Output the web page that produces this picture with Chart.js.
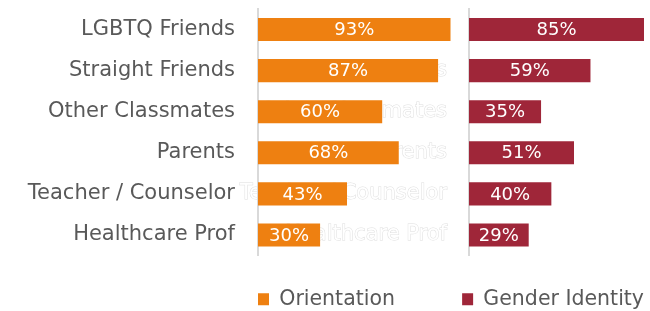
<!DOCTYPE html>
<html>
<head>
<meta charset="utf-8">
<script src="https://cdn.jsdelivr.net/npm/chart.js@4/dist/chart.umd.min.js"></script>
<style>
  html, body { margin: 0; padding: 0; background: #fff; }
  #wrap { position: relative; width: 650px; height: 311px; overflow: hidden; }
  #wrap canvas { position: absolute; left: 0; top: 0; }
</style>
</head>
<body>
<div id="wrap">
  <canvas id="genderChart" width="650" height="311"></canvas>
  <canvas id="orientChart" width="650" height="311"></canvas>
</div>
<script>
// ---- data ----
const categories = ['LGBTQ Friends', 'Straight Friends', 'Other Classmates', 'Parents', 'Teacher / Counselor', 'Healthcare Prof'];
const orientation = [93, 87, 60, 68, 43, 30];
const genderIdentity = [85, 59, 35, 51, 40, 29];

const FONT = 'DejaVu Sans';
const GREY = '#595959';
const ORANGE = '#EE8011';
const RED = '#9F2639';

// white % labels centred in each bar
const barLabels = {
  id: 'barLabels',
  afterDatasetsDraw(chart) {
    const ctx = chart.ctx;
    ctx.save();
    ctx.font = '18px "' + FONT + '"';
    ctx.fillStyle = '#fff';
    ctx.textAlign = 'center';
    ctx.textBaseline = 'middle';
    chart.data.datasets.forEach((ds, i) => {
      chart.getDatasetMeta(i).data.forEach((bar, j) => {
        ctx.fillText(ds.data[j] + '%', (bar.x + bar.base) / 2, bar.y + 1);
      });
    });
    ctx.restore();
  }
};

function makeChart(id, cfg) {
  return new Chart(document.getElementById(id), {
    type: 'bar',
    data: {
      labels: categories,
      datasets: [{
        label: cfg.label,
        data: cfg.data,
        backgroundColor: cfg.color,
        borderWidth: 0,
        categoryPercentage: 0.8,
        barPercentage: 0.7
      }]
    },
    plugins: [barLabels],
    options: {
      indexAxis: 'y',
      responsive: false,
      animation: false,
      layout: { padding: { top: 9, right: cfg.padRight, bottom: 0, left: 0 } },
      scales: {
        x: {
          min: 0, max: cfg.max,
          grid: { display: false },
          border: { display: false },
          ticks: { display: false },
          afterFit: s => { s.height = 33.5; }
        },
        y: {
          grid: { display: false, drawTicks: false },
          border: { display: true, color: '#d9d9d9', width: 2 },
          ticks: {
            color: cfg.tickColor,
            padding: cfg.tickPad,
            font: { family: FONT, size: 21 },
            textStrokeColor: cfg.stroke || undefined,
            textStrokeWidth: cfg.stroke ? 1 : 0,
            autoSkip: false
          },
          // fixed axis width, and no extra room above/below for the labels
          afterFit: s => { s.width = cfg.axisX; s.paddingTop = 0; s.paddingBottom = 0; }
        }
      },
      plugins: {
        tooltip: { enabled: false },
        legend: {
          position: 'bottom',
          fullSize: cfg.legendFull,
          align: cfg.legendAlign,
          maxHeight: 22,
          labels: {
            boxWidth: 11, boxHeight: 12, padding: 0,
            color: GREY,
            font: { family: FONT, size: 20.5 }
          }
        }
      }
    }
  });
}

// right panel sits underneath (its category labels come out white, like the source)
makeChart('genderChart', {
  label: 'Gender Identity', data: genderIdentity, color: RED,
  max: 85, padRight: 6, axisX: 469, tickPad: 22,
  tickColor: '#ffffff', stroke: 'rgba(190,190,190,0.5)',
  legendAlign: 'end', legendFull: true
});

// left panel on top, transparent canvas
makeChart('orientChart', {
  label: 'Orientation', data: orientation, color: ORANGE,
  max: 100, padRight: 185, axisX: 258, tickPad: 23,
  tickColor: GREY, legendAlign: 'start', legendFull: false
});
</script>
</body>
</html>
